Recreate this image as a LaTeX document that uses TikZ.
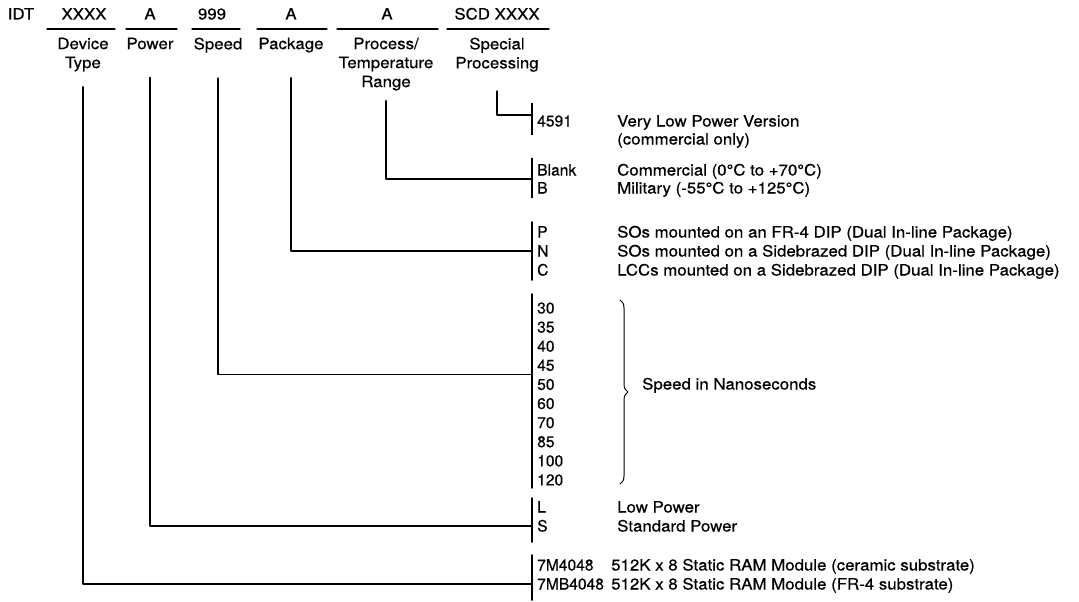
\documentclass[tikz,border=0pt]{standalone}
\usepackage{fontspec}
\setmainfont{TeX Gyre Heros}[FakeStretch=1.08, FakeBold=0.5]
\newfontfamily\codefont{TeX Gyre Heros}[FakeBold=0.5]
\usetikzlibrary{calc,decorations.pathreplacing}
\begin{document}
\begin{tikzpicture}[x=1pt, y=-1pt, line cap=round, line join=round,
    font=\fontsize{15.6}{19}\selectfont,
    txt/.style={inner sep=0pt, text height=11pt, text depth=0pt},
    code/.style={txt, anchor=west, inner xsep=5pt, font=\fontsize{15.6}{19}\codefont},
    desc/.style={txt, anchor=west},
    lbl/.style={inner sep=0pt, align=center, anchor=north},
    bar/.style={line width=1.1pt},
    link/.style={line width=1.1pt}]
  \useasboundingbox (0,0) rectangle (1079,602);
  \def\xc{532}
  \def\xd{617}
  % part number fields
  \node[txt] (idt)  at (21,14)  {IDT};
  \node[txt] (fdev) at (84,14)  {XXXX};
  \node[txt] (fpow) at (150,14) {A};
  \node[txt] (fspd) at (212,14) {999};
  \node[txt] (fpkg) at (291,14) {A};
  \node[txt] (fprc) at (387,14) {A};
  \node[txt] (fscd) at (497,14) {SCD XXXX};
  \draw[bar] (47,29) -- (115,29);
  \draw[bar] (126,29) -- (177,29);
  \draw[bar] (192,29) -- (240,29);
  \draw[bar] (257,29) -- (327,29);
  \draw[bar] (337,29) -- (438,29);
  \draw[bar] (447,29) -- (549,29);
  % field names
  \node[lbl] (ldev) at (83,37.5)  {Device\\Type};
  \node[lbl] (lpow) at (150,37.5) {Power};
  \node[lbl] (lspd) at (218,37.5) {Speed};
  \node[lbl] (lpkg) at (291,37.5) {Package};
  \node[lbl] (lprc) at (386,37.5) {Process/\\Temperature\\Range};
  \node[lbl] (lscd) at (497,37.5) {Special\\Processing};
  % special processing
  \node[code] (c4591) at (\xc,121) {4591};
  \node[desc] (d4591) at (\xd,121) {Very Low Power Version};
  \node[desc] (d4591b) at (\xd,139) {(commercial only)};
  \draw[bar] ([yshift=12pt]c4591.north west) -- ([yshift=-8pt]c4591.south west);
  % process / temperature
  \node[code] (cblank) at (\xc,170) {Blank};
  \node[code] (cb) at (\xc,188) {B};
  \node[desc] (dblank) at (\xd,170) {Commercial (0°C to +70°C)};
  \node[desc] (db) at (\xd,188) {Military (-55°C to +125°C)};
  \draw[bar] ([yshift=6pt]cblank.north west) -- ([yshift=-4pt]cb.south west);
  % package
  \node[code] (cp) at (\xc,232) {P};
  \node[code] (cn) at (\xc,251) {N};
  \node[code] (cc) at (\xc,270) {C};
  \node[desc] (dp) at (\xd,232) {SOs mounted on an FR-4 DIP (Dual In-line Package)};
  \node[desc] (dn) at (\xd,251) {SOs mounted on a Sidebrazed DIP (Dual In-line Package)};
  \node[desc] (dc) at (\xd,270) {LCCs mounted on a Sidebrazed DIP (Dual In-line Package)};
  \draw[bar] ([yshift=4.5pt]cp.north west) -- ([yshift=-4.5pt]cc.south west);
  % speed
  \foreach \s [count=\i] in {30,35,40,45,50,60,70,85,100,120}
    \node[code] (c\s) at (\xc,{308+(\i-1)*19.1}) {\s};
  \draw[bar] ([yshift=8.5pt]c30.north west) -- ([yshift=-2.5pt]c120.south west);
  \draw[line width=1pt, decorate, decoration={brace, amplitude=8pt}] (620,300) -- (620,484);
  \node[desc] (dspd) at (642,384) {Speed in Nanoseconds};
  % power
  \node[code] (cl) at (\xc,507) {L};
  \node[code] (cs) at (\xc,526) {S};
  \node[desc] (dl) at (\xd,507) {Low Power};
  \node[desc] (ds) at (\xd,526) {Standard Power};
  \draw[bar] ([yshift=3.5pt]cl.north west) -- ([yshift=-10.5pt]cs.south west);
  % device type
  \node[code] (c7m) at (\xc,565) {7M4048};
  \node[code] (c7mb) at (\xc,584) {7MB4048};
  \node[desc] (d7m) at (611,565) {512K x 8 Static RAM Module (ceramic substrate)};
  \node[desc] (d7mb) at (611,584) {512K x 8 Static RAM Module (FR-4 substrate)};
  \draw[bar] ([yshift=4.5pt]c7m.north west) -- ([yshift=-10.5pt]c7mb.south west);
  % connectors
  \draw[link, shorten <=19pt] (lscd.south) |- ([yshift=6pt]c4591.west);
  \draw[link, shorten <=10pt] (lprc.south) |- ($(cblank.west)!0.5!(cb.west)$);
  \draw[link, shorten <=25pt] (lpkg.south) |- (cn.west);
  \draw[link, shorten <=25pt] (lspd.south) |- ($(c45.west)!0.5!(c50.west)$);
  \draw[link, shorten <=28pt] (lpow.south) |- (cs.west);
  \draw[link, shorten <=15pt] (ldev.south) |- (c7mb.west);
\end{tikzpicture}
\end{document}
